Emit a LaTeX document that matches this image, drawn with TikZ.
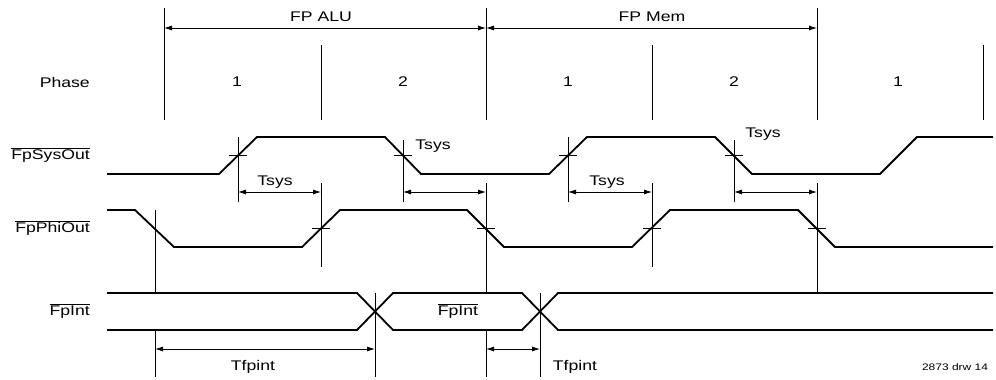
\documentclass[tikz,border=0pt]{standalone}
\usepackage{fontspec}
\setmainfont{Liberation Sans}
\usetikzlibrary{arrows.meta}
\newcommand\widetxt[1]{\scalebox{1.26}[1]{#1}}
\begin{document}
\begin{tikzpicture}[x=1pt,y=-1pt,
  sig/.style={line width=1.8pt,line join=miter},
  thin/.style={line width=0.8pt},
  dim/.style={thin,{Latex[length=8pt,width=5pt]}-{Latex[length=8pt,width=5pt]}},
  lbl/.style={font=\fontsize{14}{16}\selectfont,inner sep=0pt},
  small/.style={font=\fontsize{9.5}{11}\selectfont,inner sep=0pt}]
\useasboundingbox (0,0) rectangle (996,380);
% coordinates
\coordinate (a0) at (164,28); \coordinate (a1) at (486,28); \coordinate (a2) at (817,28);
% texts
\node[lbl] (alu) at (321,17) {\widetxt{FP ALU}};
\node[lbl] (mem) at (652,17) {\widetxt{FP Mem}};
\node[lbl,anchor=east] (phase) at (90,82) {\widetxt{Phase}};
\node[lbl] (p1) at (237,82) {\widetxt{1}};
\node[lbl] (p2) at (403,82) {\widetxt{2}};
\node[lbl] (p3) at (568,82) {\widetxt{1}};
\node[lbl] (p4) at (734,82) {\widetxt{2}};
\node[lbl] (p5) at (898,82) {\widetxt{1}};
\node[lbl,anchor=east] (sysl) at (90,155) {\widetxt{$\overline{\mbox{FpSysOut}}$}};
\node[lbl,anchor=east] (phil) at (90,228) {\widetxt{$\overline{\mbox{FpPhiOut}}$}};
\node[lbl,anchor=east] (intl) at (90,311) {\widetxt{$\overline{\mbox{FpInt}}$}};
\node[lbl] (intm) at (458,311) {\widetxt{$\overline{\mbox{FpInt}}$}};
\node[lbl] (ts1) at (275,182) {\widetxt{Tsys}};
\node[lbl] (ts2) at (433,146) {\widetxt{Tsys}};
\node[lbl] (ts3) at (607,182) {\widetxt{Tsys}};
\node[lbl] (ts4) at (763,134) {\widetxt{Tsys}};
\node[lbl] (tf1) at (253,367) {\widetxt{Tfpint}};
\node[lbl] (tf2) at (575,367) {\widetxt{Tfpint}};
\node[small] (drw) at (955,367) {\widetxt{2873 drw 14}};
% phase lines
\draw[thin] (164,8) -- (164,120);
\draw[thin] (486,8) -- (486,120);
\draw[thin] (817,8) -- (817,120);
\draw[thin] (321,45) -- (321,120);
\draw[thin] (652,45) -- (652,120);
\draw[thin] (983,45) -- (983,120);
\draw[dim] (a0) -- (a1);
\draw[dim] (a1) -- (a2);
% FpSysOut
\draw[sig] (107,174) -- (219,174) -- (257,137) -- (385,137) -- (421,174) -- (549,174) -- (587,137) -- (715,137) -- (752,174) -- (880,174) -- (917,137) -- (993,137);
% FpPhiOut
\draw[sig] (107,210) -- (135,210) -- (174,247) -- (302,247) -- (340,210) -- (467,210) -- (504,247) -- (632,247) -- (670,210) -- (798,210) -- (835,247) -- (993,247);
% FpInt bus
\draw[sig] (107,293) -- (357,293) -- (393,330) -- (522,330) -- (558,293) -- (993,293);
\draw[sig] (107,330) -- (357,330) -- (393,293) -- (522,293) -- (558,330) -- (993,330);
% verticals for Tsys
\draw[thin] (238,137) -- (238,202);
\draw[thin] (403,140) -- (403,202);
\draw[thin] (568,137) -- (568,202);
\draw[thin] (734,140) -- (734,202);
\draw[thin] (321,183) -- (321,267);
\draw[thin] (486,183) -- (486,293);
\draw[thin] (486,330) -- (486,377);
\draw[thin] (652,183) -- (652,267);
\draw[thin] (817,183) -- (817,293);
\draw[thin] (155,210) -- (155,293);
\draw[thin] (155,330) -- (155,377);
\draw[thin] (375,293) -- (375,377);
\draw[thin] (540,293) -- (540,377);
% ticks
\foreach \x in {238,403,568,734} \draw[thin] (\x-9,155) -- (\x+9,155);
\foreach \x in {321,486,652,817} \draw[thin] (\x-9,228) -- (\x+9,228);
% dimension arrows
\draw[dim] (238,192) -- (321,192);
\draw[dim] (403,192) -- (486,192);
\draw[dim] (568,192) -- (652,192);
\draw[dim] (734,192) -- (817,192);
\draw[dim] (155,349) -- (375,349);
\draw[dim] (486,349) -- (540,349);
\end{tikzpicture}
\end{document}
